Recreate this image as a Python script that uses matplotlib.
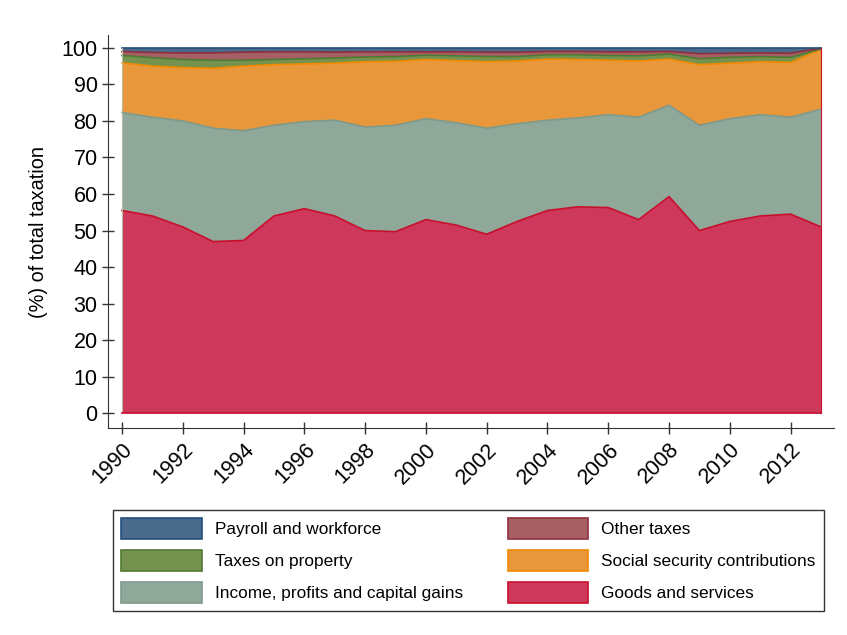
import numpy as np
import matplotlib
matplotlib.use('Agg')
from matplotlib import pyplot as plt
from matplotlib.patches import Patch

plt.rcParams["font.family"] = ["Liberation Sans", "DejaVu Sans"]

years = list(range(1990, 2014))

# shares of total taxation (%)
goods = [55.5, 54.0, 51.0, 47.0, 47.3, 54.0, 56.0, 54.0, 50.0, 49.7, 53.0, 51.5,
         49.0, 52.5, 55.5, 56.5, 56.3, 53.0, 59.3, 50.0, 52.5, 54.0, 54.5, 51.0]
income = [26.8, 27.0, 29.0, 31.0, 30.0, 24.8, 23.8, 26.2, 28.3, 29.1, 27.6, 28.0,
          29.0, 26.7, 24.7, 24.3, 25.4, 28.0, 25.0, 28.8, 28.1, 27.7, 26.5, 32.2]
social = [13.6, 14.0, 14.6, 16.4, 17.7, 16.6, 15.8, 15.6, 17.9, 17.5, 16.2, 17.0,
          18.2, 17.2, 16.7, 16.0, 14.9, 15.4, 12.6, 16.6, 15.2, 14.5, 15.0, 16.4]
prop = [2.0, 2.3, 2.2, 2.2, 1.6, 1.4, 1.4, 1.4, 1.3, 1.3, 1.2, 1.3,
        1.4, 1.2, 1.2, 1.3, 1.3, 1.4, 1.4, 1.6, 1.6, 1.4, 1.4, 0.1]
other = [1.1, 1.4, 1.8, 2.0, 2.2, 2.1, 1.9, 1.6, 1.4, 1.3, 0.9, 1.1,
         1.2, 1.2, 0.9, 0.9, 1.0, 1.1, 0.7, 1.4, 1.1, 1.0, 1.1, 0.2]
payroll = [1.0, 1.3, 1.4, 1.4, 1.2, 1.1, 1.1, 1.2, 1.1, 1.1, 1.1, 1.1,
           1.2, 1.2, 1.0, 1.0, 1.1, 1.1, 1.0, 1.6, 1.5, 1.4, 1.5, 0.1]

names = ["Goods and services", "Income, profits and capital gains",
         "Social security contributions", "Taxes on property",
         "Other taxes", "Payroll and workforce"]
faces = ["#cd385b", "#8fa89a", "#e8973a", "#76924f", "#a65f64", "#4a6a8c"]
edges = ["#c8102e", "#7d9a8c", "#f08a00", "#4f7a32", "#8e2f3e", "#24507c"]

fig = plt.figure(figsize=(8.47, 6.35), dpi=100)
ax = fig.add_axes([108/847, 1-428/635, (834-108)/847, (428-35)/635])

series = [goods, income, social, prop, other, payroll]
base = np.zeros(len(years))
for vals, fc, ec in zip(series, faces, edges):
    top = base + np.array(vals)
    ax.fill_between(years, base, top, facecolor=fc, edgecolor='none')
    ax.plot(years, top, color=ec, lw=1.2)
    base = top
# left and right outline of the stack
ax.plot([1990, 1990], [0, 100], color="#b9b9a0", lw=0.8)
ax.plot([2013, 2013], [0, 100], color="#c8102e", lw=0.8)
ax.plot([1990, 2013], [0, 0], color="#c8102e", lw=1.2)

ax.set_xlim(1990 - 14/30.38, 2013 + 13/30.38)
ax.set_ylim(-4.0, 103.5)
ax.set_yticks(range(0, 101, 10))
ax.set_xticks(range(1990, 2013, 2))
ax.set_xticklabels([str(y) for y in range(1990, 2013, 2)], rotation=45,
                   ha='right', va='top', rotation_mode='anchor')
ax.tick_params(axis='both', direction='inout', length=8, width=1, labelsize=15.5,
               color='#333333')
ax.tick_params(axis='x', pad=4)
for s in ['top', 'right']:
    ax.spines[s].set_visible(False)
for s in ['left', 'bottom']:
    ax.spines[s].set_color('#333333')
ax.set_ylabel("(%) of total taxation", fontsize=14.3, labelpad=10)

order = [5, 3, 1, 4, 2, 0]
handles = [Patch(facecolor=faces[i], edgecolor=edges[i], lw=1.2) for i in order]
labels = [names[i] for i in order]
leg = fig.legend(handles, labels, ncol=2, loc='upper left',
                 bbox_to_anchor=(113/847, 1-510/635),
                 frameon=True, fancybox=False, fontsize=12.4,
                 handlelength=4.7, handleheight=1.5, labelspacing=0.65,
                 handletextpad=0.75, borderpad=0.45, columnspacing=2.6,
                 edgecolor='black', borderaxespad=0)
leg.get_frame().set_linewidth(1.0)

fig.savefig("out.png", dpi=100)
